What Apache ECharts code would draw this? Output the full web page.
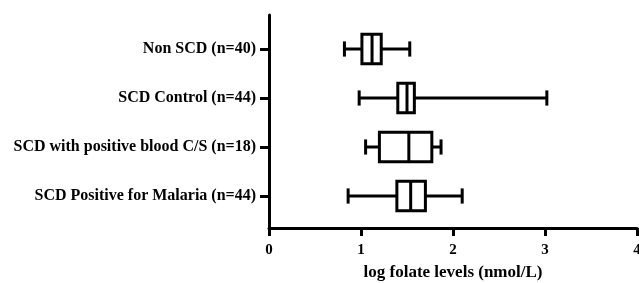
<!DOCTYPE html>
<html>
<head>
<meta charset="utf-8">
<script src="https://cdn.jsdelivr.net/npm/echarts@6/dist/echarts.min.js"></script>
<style>
  html, body { margin: 0; padding: 0; background: #fff; }
  #chart { width: 639px; height: 283px; }
</style>
</head>
<body>
<div id="chart"></div>
<script>
// groups, top to bottom
const groups = [
  'Non SCD (n=40)',
  'SCD Control (n=44)',
  'SCD with positive blood C/S (n=18)',
  'SCD Positive for Malaria (n=44)'
];
// min, q1, median, q3, max (log folate, nmol/L)
const mins    = [0.82, 0.98, 1.05, 0.86];
const q1s     = [1.01, 1.40, 1.20, 1.39];
const medians = [1.12, 1.50, 1.52, 1.54];
const q3s     = [1.22, 1.58, 1.77, 1.70];
const maxs    = [1.53, 3.02, 1.87, 2.10];
const xTicks  = [0, 4, 1]; // min, max, interval

const font = 'Liberation Serif';
const rows = groups.map((g, i) => [i, mins[i], q1s[i], medians[i], q3s[i], maxs[i]]);

const chart = echarts.init(document.getElementById('chart'));

function renderBox(params, api) {
  const cat = api.value(0);
  const band = api.size([0, 1])[1];
  const pMin = api.coord([api.value(1), cat]);
  const pQ1 = api.coord([api.value(2), cat]);
  const pMed = api.coord([api.value(3), cat]);
  const pQ3 = api.coord([api.value(4), cat]);
  const pMax = api.coord([api.value(5), cat]);
  const yc = pMed[1];
  const hb = band * 0.3;   // half box height
  const hc = band * 0.155; // half cap height
  const st = { stroke: '#000', lineWidth: 3, fill: null };
  return {
    type: 'group',
    children: [
      { type: 'line', shape: { x1: pMin[0], y1: yc, x2: pQ1[0], y2: yc }, style: st },
      { type: 'line', shape: { x1: pQ3[0], y1: yc, x2: pMax[0], y2: yc }, style: st },
      { type: 'line', shape: { x1: pMin[0], y1: yc - hc, x2: pMin[0], y2: yc + hc }, style: st },
      { type: 'line', shape: { x1: pMax[0], y1: yc - hc, x2: pMax[0], y2: yc + hc }, style: st },
      { type: 'rect', shape: { x: pQ1[0], y: yc - hb, width: pQ3[0] - pQ1[0], height: hb * 2 },
        style: { stroke: '#000', lineWidth: 3, fill: '#fff' } },
      { type: 'line', shape: { x1: pMed[0], y1: yc - hb, x2: pMed[0], y2: yc + hb }, style: st }
    ]
  };
}

const axisLine = { show: true, lineStyle: { color: '#000', width: 3 } };

chart.setOption({
  animation: false,
  grid: [
    // frame grid: full-length axis lines and x ticks
    { left: 269, right: 2, top: 15, bottom: 55, outerBoundsMode: 'none' },
    // data grid: category bands
    { left: 269, right: 2, top: 24.5, height: 196, outerBoundsMode: 'none' }
  ],
  xAxis: [
    {
      type: 'value', gridIndex: 0,
      min: xTicks[0], max: xTicks[1], interval: xTicks[2],
      axisLine: axisLine,
      axisTick: { show: true, length: 8, lineStyle: { color: '#000', width: 3 } },
      splitLine: { show: false },
      axisLabel: { color: '#000', fontFamily: font, fontWeight: 'bold', fontSize: 15, margin: 15 },
      name: 'log folate levels (nmol/L)',
      nameLocation: 'middle',
      nameGap: 36,
      nameTextStyle: { color: '#000', fontFamily: font, fontWeight: 'bold', fontSize: 17 }
    },
    {
      type: 'value', gridIndex: 1,
      min: xTicks[0], max: xTicks[1], interval: xTicks[2],
      show: false
    }
  ],
  yAxis: [
    {
      type: 'value', gridIndex: 0,
      axisLine: axisLine,
      axisTick: { show: false },
      axisLabel: { show: false },
      splitLine: { show: false }
    },
    {
      type: 'category', gridIndex: 1,
      data: groups,
      inverse: true,
      axisLine: { show: false },
      axisTick: { show: true, alignWithLabel: true, length: 9, lineStyle: { color: '#000', width: 3 } },
      axisLabel: { color: '#000', fontFamily: font, fontWeight: 'bold', fontSize: 16, margin: 13 },
      splitLine: { show: false }
    }
  ],
  series: [{
    type: 'custom',
    xAxisIndex: 1,
    yAxisIndex: 1,
    renderItem: renderBox,
    encode: { x: [1, 2, 3, 4, 5], y: 0 },
    data: rows
  }]
});
</script>
</body>
</html>
